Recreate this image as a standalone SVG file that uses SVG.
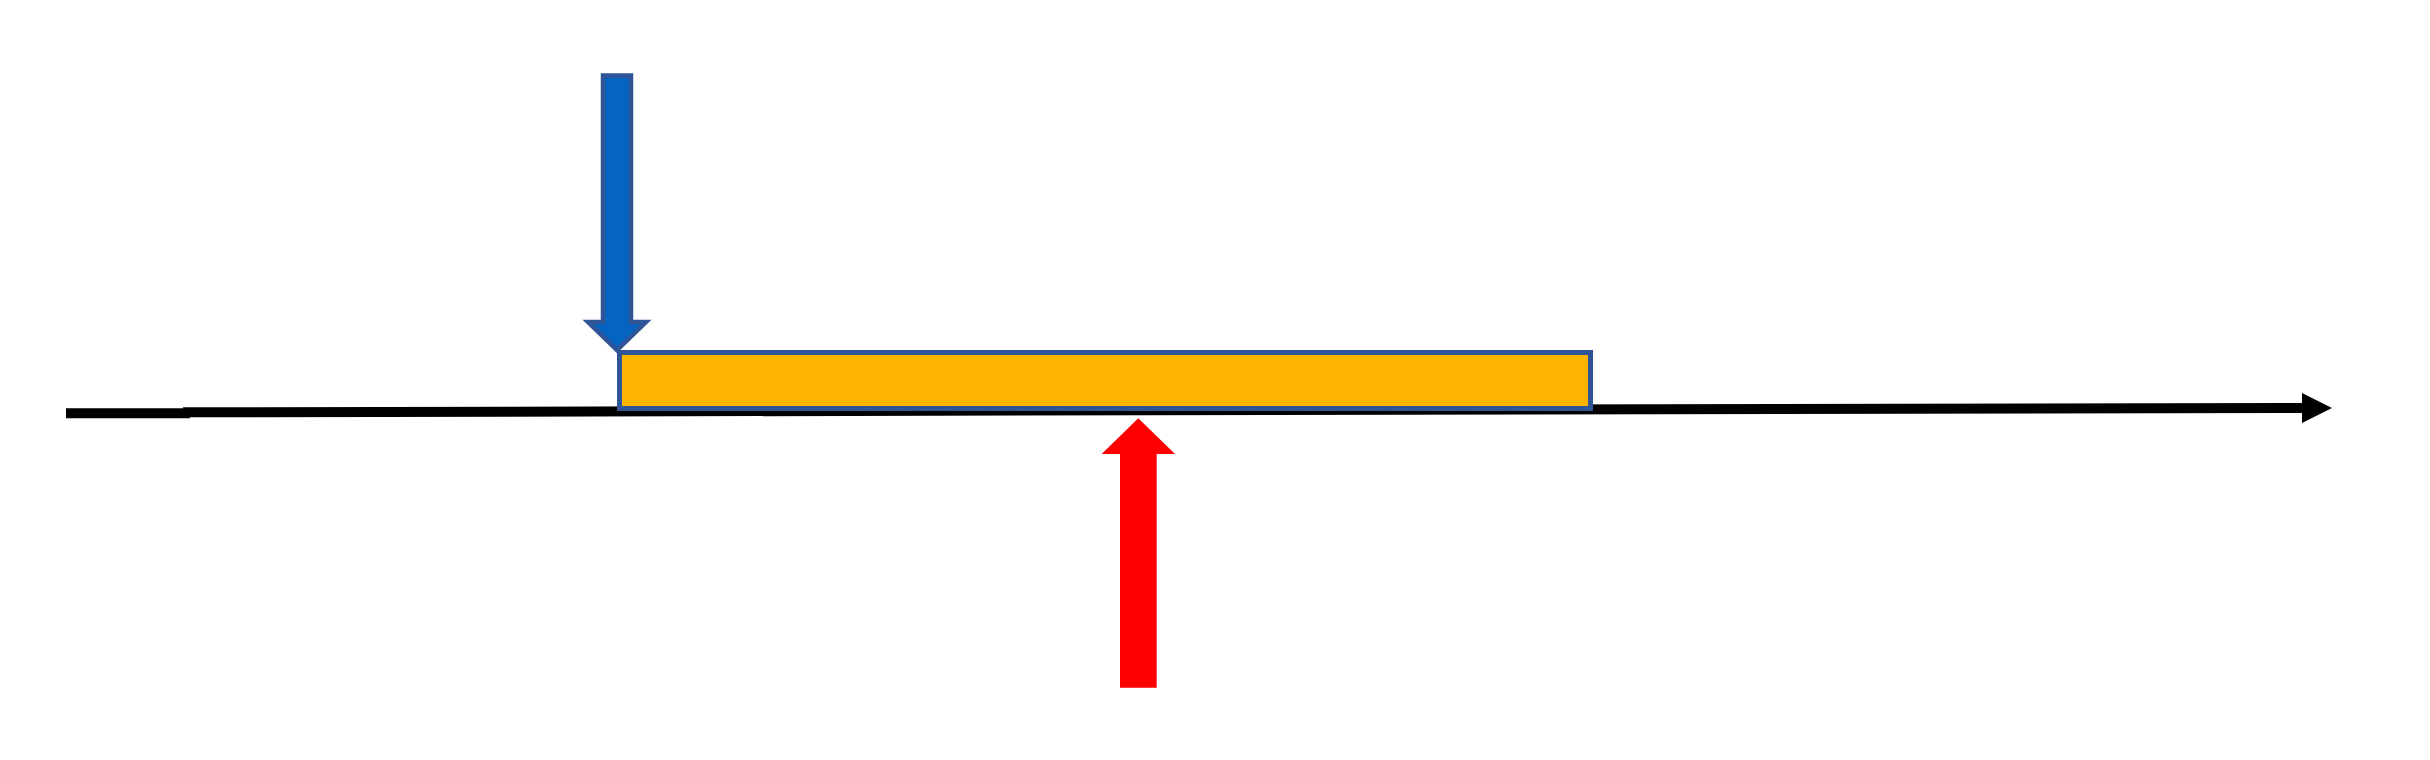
<svg xmlns="http://www.w3.org/2000/svg" width="2430" height="760" viewBox="0 0 2430 760">
  <style>
    .axis { stroke: #000000; stroke-width: 10; fill: none; }
    .head { fill: #000000; }
  </style>
  <rect x="0" y="0" width="2430" height="760" fill="#FFFFFF"/>
  <g id="connectors">
    <line class="axis" x1="66" y1="413.3" x2="190" y2="413.3"/>
    <line class="axis" x1="183" y1="412.3" x2="2304" y2="408"/>
    <polygon class="head" points="2302,393 2332,408 2302,423"/>
  </g>
  <g id="bar">
    <rect x="619.5" y="352.5" width="971" height="56" fill="#FFB400" stroke="#2F5597" stroke-width="5"/>
  </g>
  <g id="blue-arrow">
    <polygon points="603,75.5 631,75.5 631,322 646,322 617,350 588,322 603,322" fill="#0563C1" stroke="#2F5597" stroke-width="4.5" stroke-linejoin="miter"/>
  </g>
  <g id="red-arrow">
    <polygon points="1120,687.7 1156.7,687.7 1156.7,454 1175,454 1138.3,418.3 1101.7,454 1120,454" fill="#FF0000"/>
  </g>
</svg>
